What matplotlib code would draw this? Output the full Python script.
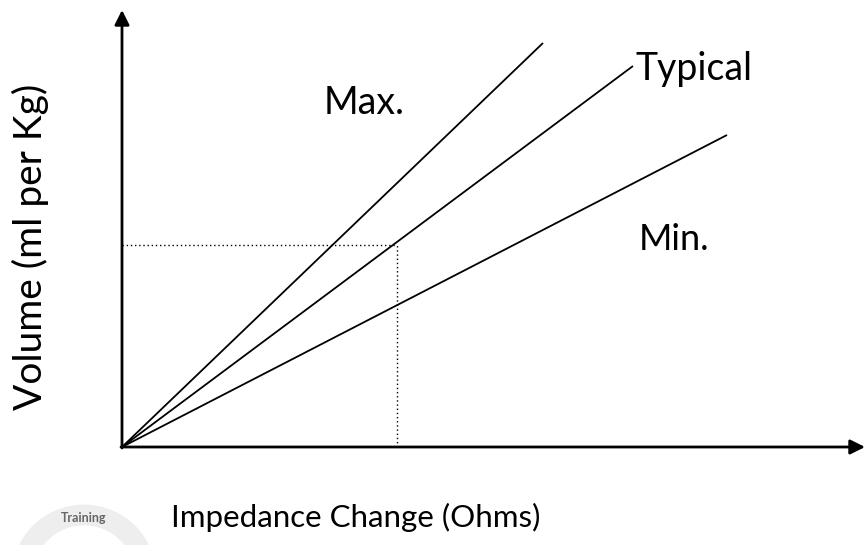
import numpy as np
import matplotlib.pyplot as plt
from matplotlib.patches import Arc

# line end points (x = impedance change, y = volume), arbitrary units
names = ['Max.', 'Typical', 'Min.']
x_end = [421, 511, 605]
y_end = [404, 381, 312]

# reading shown by the dotted guide lines
x_read = 275
y_read = 202

x_axis_len = 743
y_axis_len = 437

plt.rcParams['font.family'] = ['Lato', 'DejaVu Sans']

fig = plt.figure(figsize=(8.67, 5.45), dpi=100)
ax = fig.add_axes([0, 0, 1, 1])
ax.set_xlim(-122, 745)
ax.set_ylim(-98, 447)
ax.axis('off')

# axes with arrow heads
ax.annotate('', xy=(x_axis_len, 0), xytext=(-1, 0),
            arrowprops=dict(arrowstyle='-|>', lw=2, color='black', mutation_scale=22, shrinkA=0, shrinkB=0))
ax.annotate('', xy=(0, y_axis_len), xytext=(0, -1),
            arrowprops=dict(arrowstyle='-|>', lw=2, color='black', mutation_scale=22, shrinkA=0, shrinkB=0))

for xe, ye in zip(x_end, y_end):
    ax.plot([0, xe], [0, ye], color='black', lw=1.3, solid_capstyle='butt')

ax.plot([0, x_read], [y_read, y_read], color='black', lw=1, ls=(0, (1, 2)))
ax.plot([x_read, x_read], [0, y_read], color='black', lw=1, ls=(0, (1, 2)))

ax.text(202, 344, 'Max.', fontsize=27, ha='left', va='center')
ax.text(514, 378, 'Typical', fontsize=27, ha='left', va='center')
ax.text(517, 207, 'Min.', fontsize=26, ha='left', va='center')

ax.text(-92, 200, 'Volume (ml per Kg)', fontsize=28, rotation=90, ha='center', va='center')
ax.text(234, -70, 'Impedance Change (Ohms)', fontsize=22.5, ha='center', va='center')

# faint logo in the corner
ax.add_patch(Arc((-38, -130), 124, 124, theta1=0, theta2=180, color='#eeeeee', lw=15))
ax.text(-38, -71, 'Training', fontsize=9, color='#666666', ha='center', va='center', fontweight='bold')

fig.savefig('out.png', dpi=100)
